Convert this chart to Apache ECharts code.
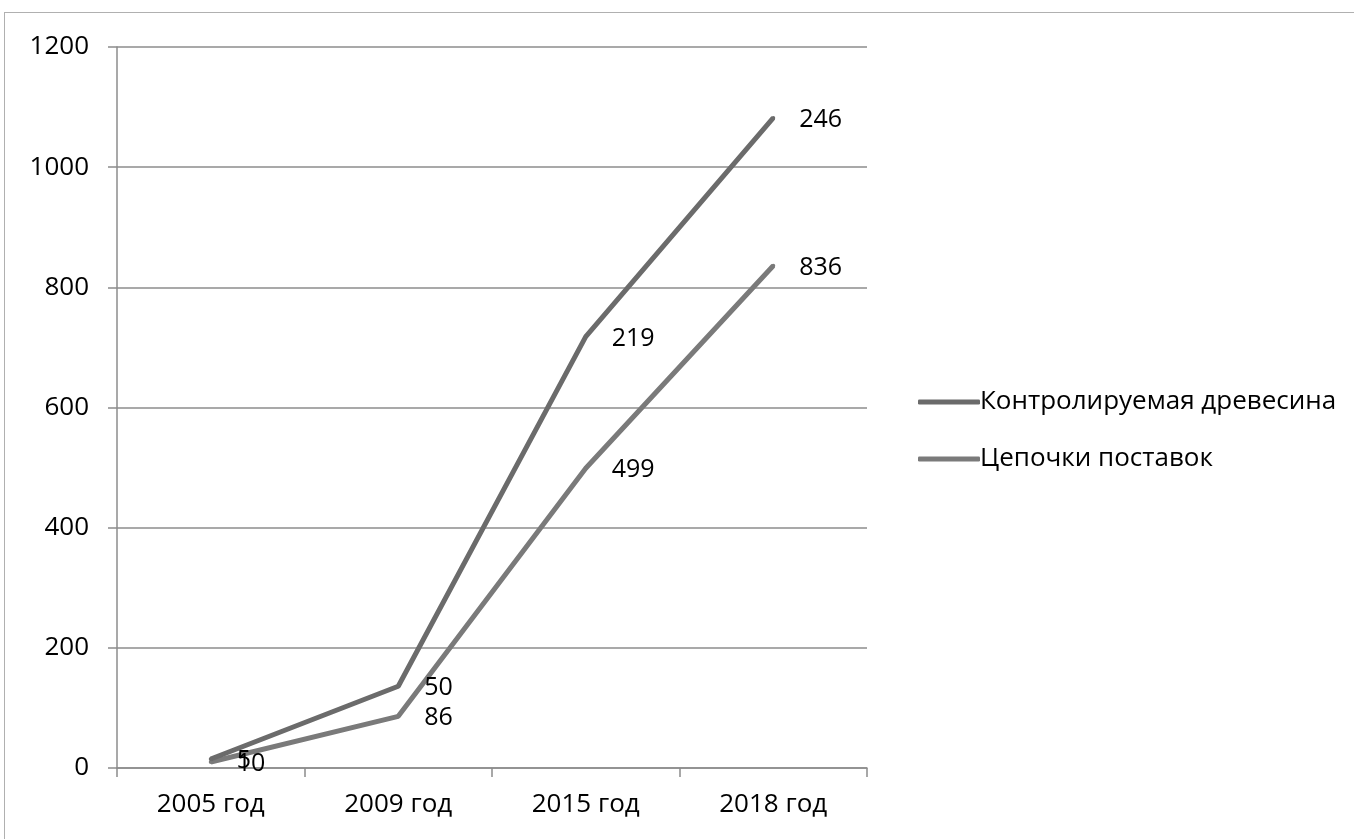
<!DOCTYPE html>
<html><head><meta charset="utf-8">
<script src="https://cdn.jsdelivr.net/npm/echarts@6/dist/echarts.min.js"></script>
<style>
html,body{margin:0;padding:0;background:#fff;}
#frame{position:absolute;left:4px;top:12px;width:1400px;height:900px;border:1.5px solid #b0b0b0;box-sizing:border-box;}
#c{position:absolute;left:0;top:0;width:1354px;height:839px;}
</style></head>
<body><div id="frame"></div><div id="c"></div>
<script>
const categories = ['2005 год', '2009 год', '2015 год', '2018 год'];
const controlledWood = [5, 50, 219, 246];
const supplyChains = [10, 86, 499, 836];
const seriesNames = ['Контролируемая древесина', 'Цепочки поставок'];

const font = 'Open Sans';
const chart = echarts.init(document.getElementById('c'));
const lbl = {show: true, position: 'right', distance: 24, offset: [0, 2], color: '#000', fontSize: 25, fontFamily: font};
chart.setOption({
  animation: false,
  grid: {left: 117, top: 47, right: 487, bottom: 71},
  legend: {
    orient: 'vertical', left: 913, top: 384, itemGap: 31,
    itemWidth: 62, itemHeight: 5, icon: 'roundRect',
    data: seriesNames,
    textStyle: {fontSize: 26, fontFamily: font, color: '#000', padding: [0,0,0,-5]}
  },
  xAxis: {
    type: 'category', data: categories, boundaryGap: true,
    axisLine: {lineStyle: {color: '#8c8c8c', width: 1.5}},
    axisTick: {show: true, length: 9, lineStyle: {color: '#8c8c8c', width: 1.5}},
    axisLabel: {fontSize: 26, fontFamily: font, color: '#000', margin: 24}
  },
  yAxis: {
    type: 'value', min: 0, max: 1200, interval: 200,
    axisLine: {show: true, lineStyle: {color: '#8c8c8c', width: 1.5}},
    axisTick: {show: true, length: 9, lineStyle: {color: '#8c8c8c', width: 1.5}},
    splitLine: {lineStyle: {color: '#8c8c8c', width: 1.5}},
    axisLabel: {fontSize: 26, fontFamily: font, color: '#000', margin: 28, formatter: v => String(v)}
  },
  series: [
    {name: seriesNames[1], type: 'line', stack: 'total', data: supplyChains,
     symbol: 'circle', symbolSize: 4, showSymbol: true,
     itemStyle: {color: '#7a7a7a'}, lineStyle: {width: 5, color: '#7a7a7a'}, label: lbl, z: 2},
    {name: seriesNames[0], type: 'line', stack: 'total', data: controlledWood,
     symbol: 'circle', symbolSize: 4, showSymbol: true,
     itemStyle: {color: '#6b6b6b'}, lineStyle: {width: 5, color: '#6b6b6b'}, label: lbl, z: 3}
  ]
});
</script></body></html>
